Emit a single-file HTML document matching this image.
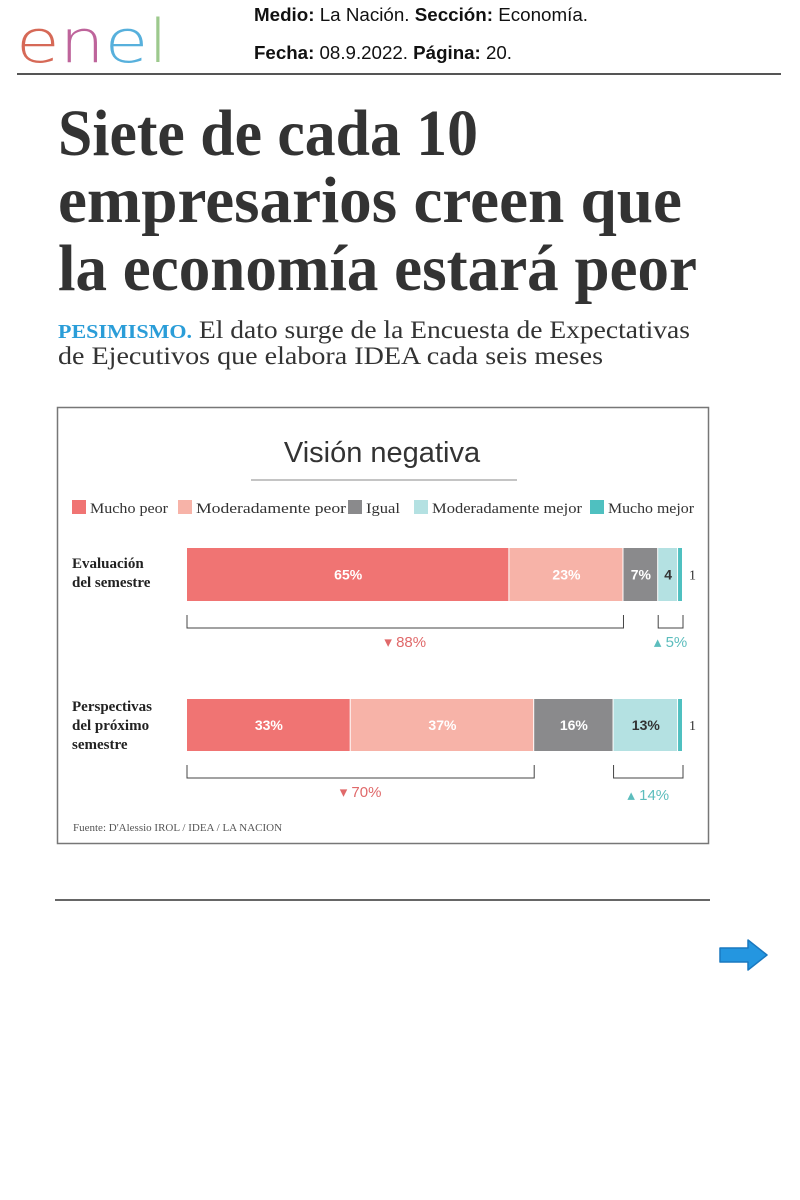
<!DOCTYPE html>
<html><head><meta charset="utf-8"><style>
body{margin:0;background:#fff;width:800px;height:1200px;overflow:hidden}
svg{display:block}
</style></head><body>
<svg width="800" height="1200" viewBox="0 0 800 1200">
<g font-family="DejaVu Sans, sans-serif" font-size="60" font-weight="200">
<text x="16" y="62" textLength="152" lengthAdjust="spacingAndGlyphs" opacity="0.85"><tspan fill="#d0503a">e</tspan><tspan fill="#b34a8a">n</tspan><tspan fill="#3aa3d6">e</tspan><tspan fill="#8cc07a">l</tspan></text>
</g>
<g font-family="Liberation Sans Narrow, Liberation Sans, sans-serif" font-size="18" fill="#111">
<text x="254" y="21" textLength="334" lengthAdjust="spacingAndGlyphs"><tspan font-weight="bold">Medio:</tspan> La Nación.  <tspan font-weight="bold">Sección:</tspan> Economía.</text>
<text x="254" y="59" textLength="258" lengthAdjust="spacingAndGlyphs"><tspan font-weight="bold">Fecha:</tspan> 08.9.2022.  <tspan font-weight="bold">Página:</tspan> 20.</text>
</g>
<line x1="17" y1="74" x2="781" y2="74" stroke="#555" stroke-width="2"/>
<g font-family="Liberation Serif, serif" font-weight="bold" font-size="66" fill="#333">
<text x="58" y="155" textLength="420" lengthAdjust="spacingAndGlyphs">Siete de cada 10</text>
<text x="58" y="222" textLength="624" lengthAdjust="spacingAndGlyphs">empresarios creen que</text>
<text x="58" y="290" textLength="639" lengthAdjust="spacingAndGlyphs">la economía estará peor</text>
</g>
<g font-family="Liberation Serif, serif" font-size="25" fill="#333">
<text x="58" y="338" textLength="632" lengthAdjust="spacingAndGlyphs"><tspan font-weight="bold" fill="#2a9dd8" font-size="20">PESIMISMO.</tspan> El dato surge de la Encuesta de Expectativas</text>
<text x="58" y="364" textLength="545" lengthAdjust="spacingAndGlyphs">de Ejecutivos que elabora IDEA cada seis meses</text>
</g>
<rect x="57.5" y="407.5" width="651" height="436" fill="#fff" stroke="#777" stroke-width="1.5"/>
<text x="382" y="462" text-anchor="middle" font-family="Liberation Sans, sans-serif" font-size="29" fill="#333">Visión negativa</text>
<line x1="251" y1="480" x2="517" y2="480" stroke="#888"/>
<g id="legend" font-family="Liberation Serif, serif" font-size="15" fill="#333"></g>
<g id="bars"></g>
<text x="73" y="831" font-family="Liberation Serif, serif" font-size="11" fill="#555">Fuente: D'Alessio IROL / IDEA / LA NACION</text>
<line x1="55" y1="900" x2="710" y2="900" stroke="#333" stroke-width="1.5"/>
<g>
<path d="M720 948 L748 948 L748 940 L767 955 L748 970 L748 962 L720 962 Z" fill="#2496e0" stroke="#1a78bf" stroke-width="1.5" stroke-linejoin="round"/>
</g>
</svg>
<script>
const categories=["Mucho peor","Moderadamente peor","Igual","Moderadamente mejor","Mucho mejor"];
const rowLabels=[["Evaluación","del semestre"],["Perspectivas","del próximo","semestre"]];
const row1=[65,23,7,4,1];
const row2=[33,37,16,13,1];
const printed1=["65%","23%","7%","4","1"];
const printed2=["33%","37%","16%","13%","1"];
const neg=["88%","70%"];
const pos=["5%","14%"];
const colors=["#f07473","#f7b3a8","#8a8a8c","#b4e1e2","#4fc0c0"];
const textCol=["#fff","#fff","#fff","#333","#333"];
const NS="http://www.w3.org/2000/svg";
const X0=187,SCALE=4.96;
const xs=v=>X0+v*SCALE;
function mk(tag,attrs,parent,txt){const e=document.createElementNS(NS,tag);for(const k in attrs)e.setAttribute(k,attrs[k]);if(txt!=null)e.textContent=txt;parent.appendChild(e);return e;}
const lg=document.getElementById('legend');
const legX=[72,178,348,414,590];
const legW=[78,150,34,150,86];
categories.forEach((c,i)=>{
  const g=mk('g',{},lg);
  
  
  mk('rect',{x:legX[i],y:500,width:14,height:14,fill:colors[i]},g);
  mk('text',{x:legX[i]+18,y:513,textLength:legW[i],lengthAdjust:"spacingAndGlyphs"},g,c);
});
const bg=document.getElementById('bars');
const rows=[{v:row1,p:printed1,y:548,h:53,ly:[568,587]},{v:row2,p:printed2,y:699,h:52,ly:[711,730,749]}];
rows.forEach((r,ri)=>{
  const lab=mk('text',{x:72,"font-family":"Liberation Serif, serif","font-weight":"bold","font-size":"15",fill:"#222"},bg);
  
  
  rowLabels[ri].forEach((t,k)=>mk('tspan',{x:72,y:r.ly[k]},lab,t));
  let cum=0;
  r.v.forEach((v,i)=>{
    const x=xs(cum),w=v*SCALE;
    const b=mk('rect',{x:x,y:r.y,width:Math.max(w-1,1),height:r.h,fill:colors[i]},bg);
    
    
    if(i<4){
      const t=mk('text',{x:x+w/2,y:r.y+r.h/2+5,"text-anchor":"middle","font-family":"Liberation Sans, sans-serif","font-weight":"bold","font-size":"14",fill:textCol[i]},bg,r.p[i]);
      
      
    } else {
      const t=mk('text',{x:xs(cum+v)+6,y:r.y+r.h/2+5,"font-family":"Liberation Serif, serif","font-size":"14",fill:"#333"},bg,r.p[i]);
      
      
    }
    cum+=v;
  });
  const by=r.y+r.h+14,bh=13;
  const negEnd=r.v[0]+r.v[1], posStart=r.v[0]+r.v[1]+r.v[2], total=posStart+r.v[3]+r.v[4];
  [[0,negEnd,neg[ri],"#e0696a","▾ "],[posStart,total,pos[ri],"#5cbdbd","▴ "]].forEach(([a,b2,lbl,col,ar])=>{
    const x1=xs(a),x2=xs(b2);
    const p=mk('path',{d:`M${x1} ${by} V${by+bh} H${x2} V${by}`,fill:"none",stroke:"#444","stroke-width":"1"},bg);
    
    
    const t=mk('text',{x:(x1+x2)/2,y:by+bh+ (ri==1&&a>0?18:15)+4,"text-anchor":"middle","font-family":"Liberation Sans, sans-serif","font-size":"15",fill:col},bg,ar+lbl);
    
    
  });
});
</script>
</body></html>
